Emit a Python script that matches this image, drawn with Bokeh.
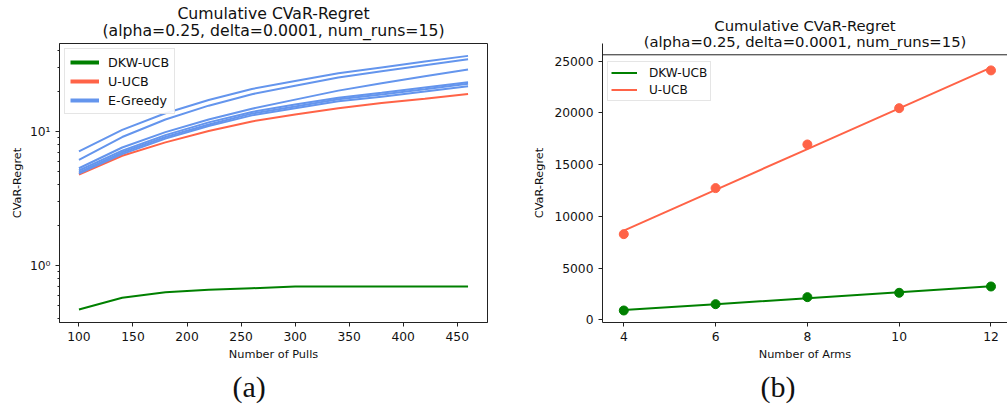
import numpy as np
from bokeh.plotting import figure
from bokeh.layouts import row
from bokeh.models import (Range1d, FixedTicker, CustomJSTickFormatter, Title,
                          Legend, LegendItem, Span)
from bokeh.embed import file_html
from bokeh.resources import INLINE

# ---------------- data ----------------
pulls = [100, 140, 180, 220, 260, 300, 340, 380, 420, 460]
dkw_ucb_pulls = [0.47, 0.574, 0.632, 0.659, 0.677, 0.697, 0.697, 0.697, 0.697, 0.697]
u_ucb_pulls = [4.78, 6.6, 8.3, 10.1, 11.9, 13.4, 14.9, 16.3, 17.6, 19.1]
egreedy_1 = [7.10, 10.3, 13.7, 17.2, 20.8, 23.8, 27.2, 30.1, 33.3, 36.7]
egreedy_2 = [6.15, 9.1, 12.3, 15.6, 19.0, 22.0, 25.3, 28.2, 31.3, 34.7]
egreedy_3 = [5.32, 7.6, 9.9, 12.3, 14.8, 17.3, 20.2, 22.9, 25.9, 29.0]
egreedy_4 = [5.12, 7.2, 9.4, 11.7, 14.0, 15.9, 17.9, 19.5, 21.3, 23.3]
egreedy_5 = [4.95, 7.0, 9.1, 11.3, 13.6, 15.4, 17.4, 18.9, 20.7, 22.7]
egreedy_6 = [4.85, 6.8, 8.85, 11.0, 13.2, 14.9, 16.8, 18.2, 19.9, 21.8]
egreedy_runs = [egreedy_1, egreedy_2, egreedy_3, egreedy_4, egreedy_5, egreedy_6]

arms = [4, 6, 8, 10, 12]
dkw_ucb_arms = [900, 1510, 2190, 2610, 3220]
u_ucb_arms = [8280, 12730, 16950, 20460, 24110]

pull_ticks = [100, 150, 200, 250, 300, 350, 400, 450]
arm_ticks = [4, 6, 8, 10, 12]
regret_ticks = [0, 5000, 10000, 15000, 20000, 25000]

title_line1 = "Cumulative CVaR-Regret"
title_line2 = "(alpha=0.25, delta=0.0001, num_runs=15)"

GREEN = "#008000"
RED = "#ff6347"
BLUE = "#6495ed"
FONT = "DejaVu Sans"
SERIF = "Liberation Serif"
TXT = "#111111"
SPINE = "#222222"


def style_axes(p):
    for ax in p.xaxis + p.yaxis:
        ax.major_label_text_font = FONT
        ax.major_label_text_font_size = "12.3px"
        ax.major_label_text_color = TXT
        ax.axis_label_text_font = FONT
        ax.axis_label_text_font_size = "11.3px"
        ax.axis_label_text_font_style = "normal"
        ax.axis_label_text_color = TXT
        ax.major_tick_in = 0
        ax.major_tick_out = 4
        ax.minor_tick_in = 0
        ax.minor_tick_out = 2
        ax.axis_line_color = SPINE
        ax.major_tick_line_color = SPINE
        ax.minor_tick_line_color = SPINE
    p.xgrid.visible = False
    p.ygrid.visible = False
    p.background_fill_color = "white"
    p.border_fill_color = "white"


def add_title(p, txt, size, standoff, side="above", font=FONT, align="center",
              offset=0):
    p.add_layout(Title(text=txt, align=align, offset=offset, text_font=font,
                       text_font_size=size, text_font_style="normal",
                       text_color=TXT, standoff=standoff), side)


# ---------------- left panel ----------------
p1 = figure(width=500, height=407, output_backend="svg", toolbar_location=None,
            y_axis_type="log", x_range=Range1d(82, 478),
            y_range=Range1d(0.3756, 45.4),
            min_border_left=59, min_border_right=13, min_border_top=43,
            min_border_bottom=85)
p1.outline_line_color = SPINE
p1.outline_line_width = 1

p1.line(pulls, dkw_ucb_pulls, line_color=GREEN, line_width=2)
p1.line(pulls, u_ucb_pulls, line_color=RED, line_width=2)
for run in egreedy_runs:
    p1.line(pulls, run, line_color=BLUE, line_width=2)

# legend proxies (no visible data, thicker legend lines)
leg_g = p1.line([pulls[0]], [np.nan], line_color=GREEN, line_width=4)
leg_r = p1.line([pulls[0]], [np.nan], line_color=RED, line_width=4)
leg_b = p1.line([pulls[0]], [np.nan], line_color=BLUE, line_width=4)
legend1 = Legend(items=[LegendItem(label="DKW-UCB", renderers=[leg_g]),
                        LegendItem(label="U-UCB", renderers=[leg_r]),
                        LegendItem(label="E-Greedy", renderers=[leg_b])],
                 location="top_left", margin=5, padding=5, spacing=3,
                 glyph_width=29, glyph_height=16, label_standoff=9,
                 label_text_font=FONT, label_text_font_size="12.7px",
                 label_text_color=TXT, border_line_color="#cccccc",
                 border_line_width=1, background_fill_alpha=0.9)
p1.add_layout(legend1)

p1.xaxis.ticker = FixedTicker(ticks=pull_ticks)
p1.yaxis.ticker = FixedTicker(ticks=[1, 10],
                              minor_ticks=[0.4, 0.5, 0.6, 0.7, 0.8, 0.9,
                                           2, 3, 4, 5, 6, 7, 8, 9, 20, 30, 40])
p1.yaxis.formatter = CustomJSTickFormatter(
    code="return tick == 1 ? '10\u2070' : (tick == 10 ? '10\u00b9' : '')")
p1.xaxis.axis_label = "Number of Pulls"
p1.yaxis.axis_label = "CVaR-Regret"
style_axes(p1)
p1.xaxis.axis_label_standoff = 4
p1.yaxis.axis_label_standoff = 3

# first added sits nearest the frame
add_title(p1, title_line2, "15.7px", 8)
add_title(p1, title_line1, "15.7px", -17)
add_title(p1, "(a)", "30px", 8, side="below", font=SERIF, align="left",
          offset=173)

# ---------------- right panel ----------------
p2 = figure(width=507, height=407, output_backend="svg", toolbar_location=None,
            x_range=Range1d(3.536, 12.36), y_range=Range1d(-261, 26711),
            min_border_left=102, min_border_right=0, min_border_top=43,
            min_border_bottom=85)
p2.outline_line_color = None
p2.add_layout(Span(location=25619, dimension="width", line_color=SPINE,
                   line_width=1))

ca, cb = np.polyfit(arms, dkw_ucb_arms, 1)
ua, ub = np.polyfit(arms, u_ucb_arms, 1)
fit_dkw = [ca * a + cb for a in arms]
fit_u = [ua * a + ub for a in arms]

l_g = p2.line(arms, fit_dkw, line_color=GREEN, line_width=2)
l_r = p2.line(arms, fit_u, line_color=RED, line_width=2)
p2.scatter(arms, dkw_ucb_arms, size=9, fill_color=GREEN, line_color=GREEN)
p2.scatter(arms, u_ucb_arms, size=9, fill_color=RED, line_color=RED)

legend2 = Legend(items=[LegendItem(label="DKW-UCB", renderers=[l_g]),
                        LegendItem(label="U-UCB", renderers=[l_r])],
                 location=(5, 221), padding=3, spacing=2,
                 glyph_width=26, glyph_height=15, label_standoff=12,
                 label_text_font=FONT, label_text_font_size="12.1px",
                 label_text_color=TXT, border_line_color="#cccccc",
                 border_line_width=1, background_fill_alpha=0.9)
p2.add_layout(legend2)

p2.xaxis.ticker = FixedTicker(ticks=arm_ticks)
p2.yaxis.ticker = FixedTicker(ticks=regret_ticks)
p2.xaxis.axis_label = "Number of Arms"
p2.yaxis.axis_label = "CVaR-Regret"
style_axes(p2)
p2.xaxis.axis_label_standoff = 4
p2.yaxis.axis_label_standoff = 5

add_title(p2, title_line2, "14.8px", -12)
add_title(p2, title_line1, "14.8px", 6)
add_title(p2, "(b)", "30px", 8, side="below", font=SERIF, align="left",
          offset=158)

layout = row(p1, p2, spacing=0)
open("out.html", "w").write(file_html(layout, INLINE))
